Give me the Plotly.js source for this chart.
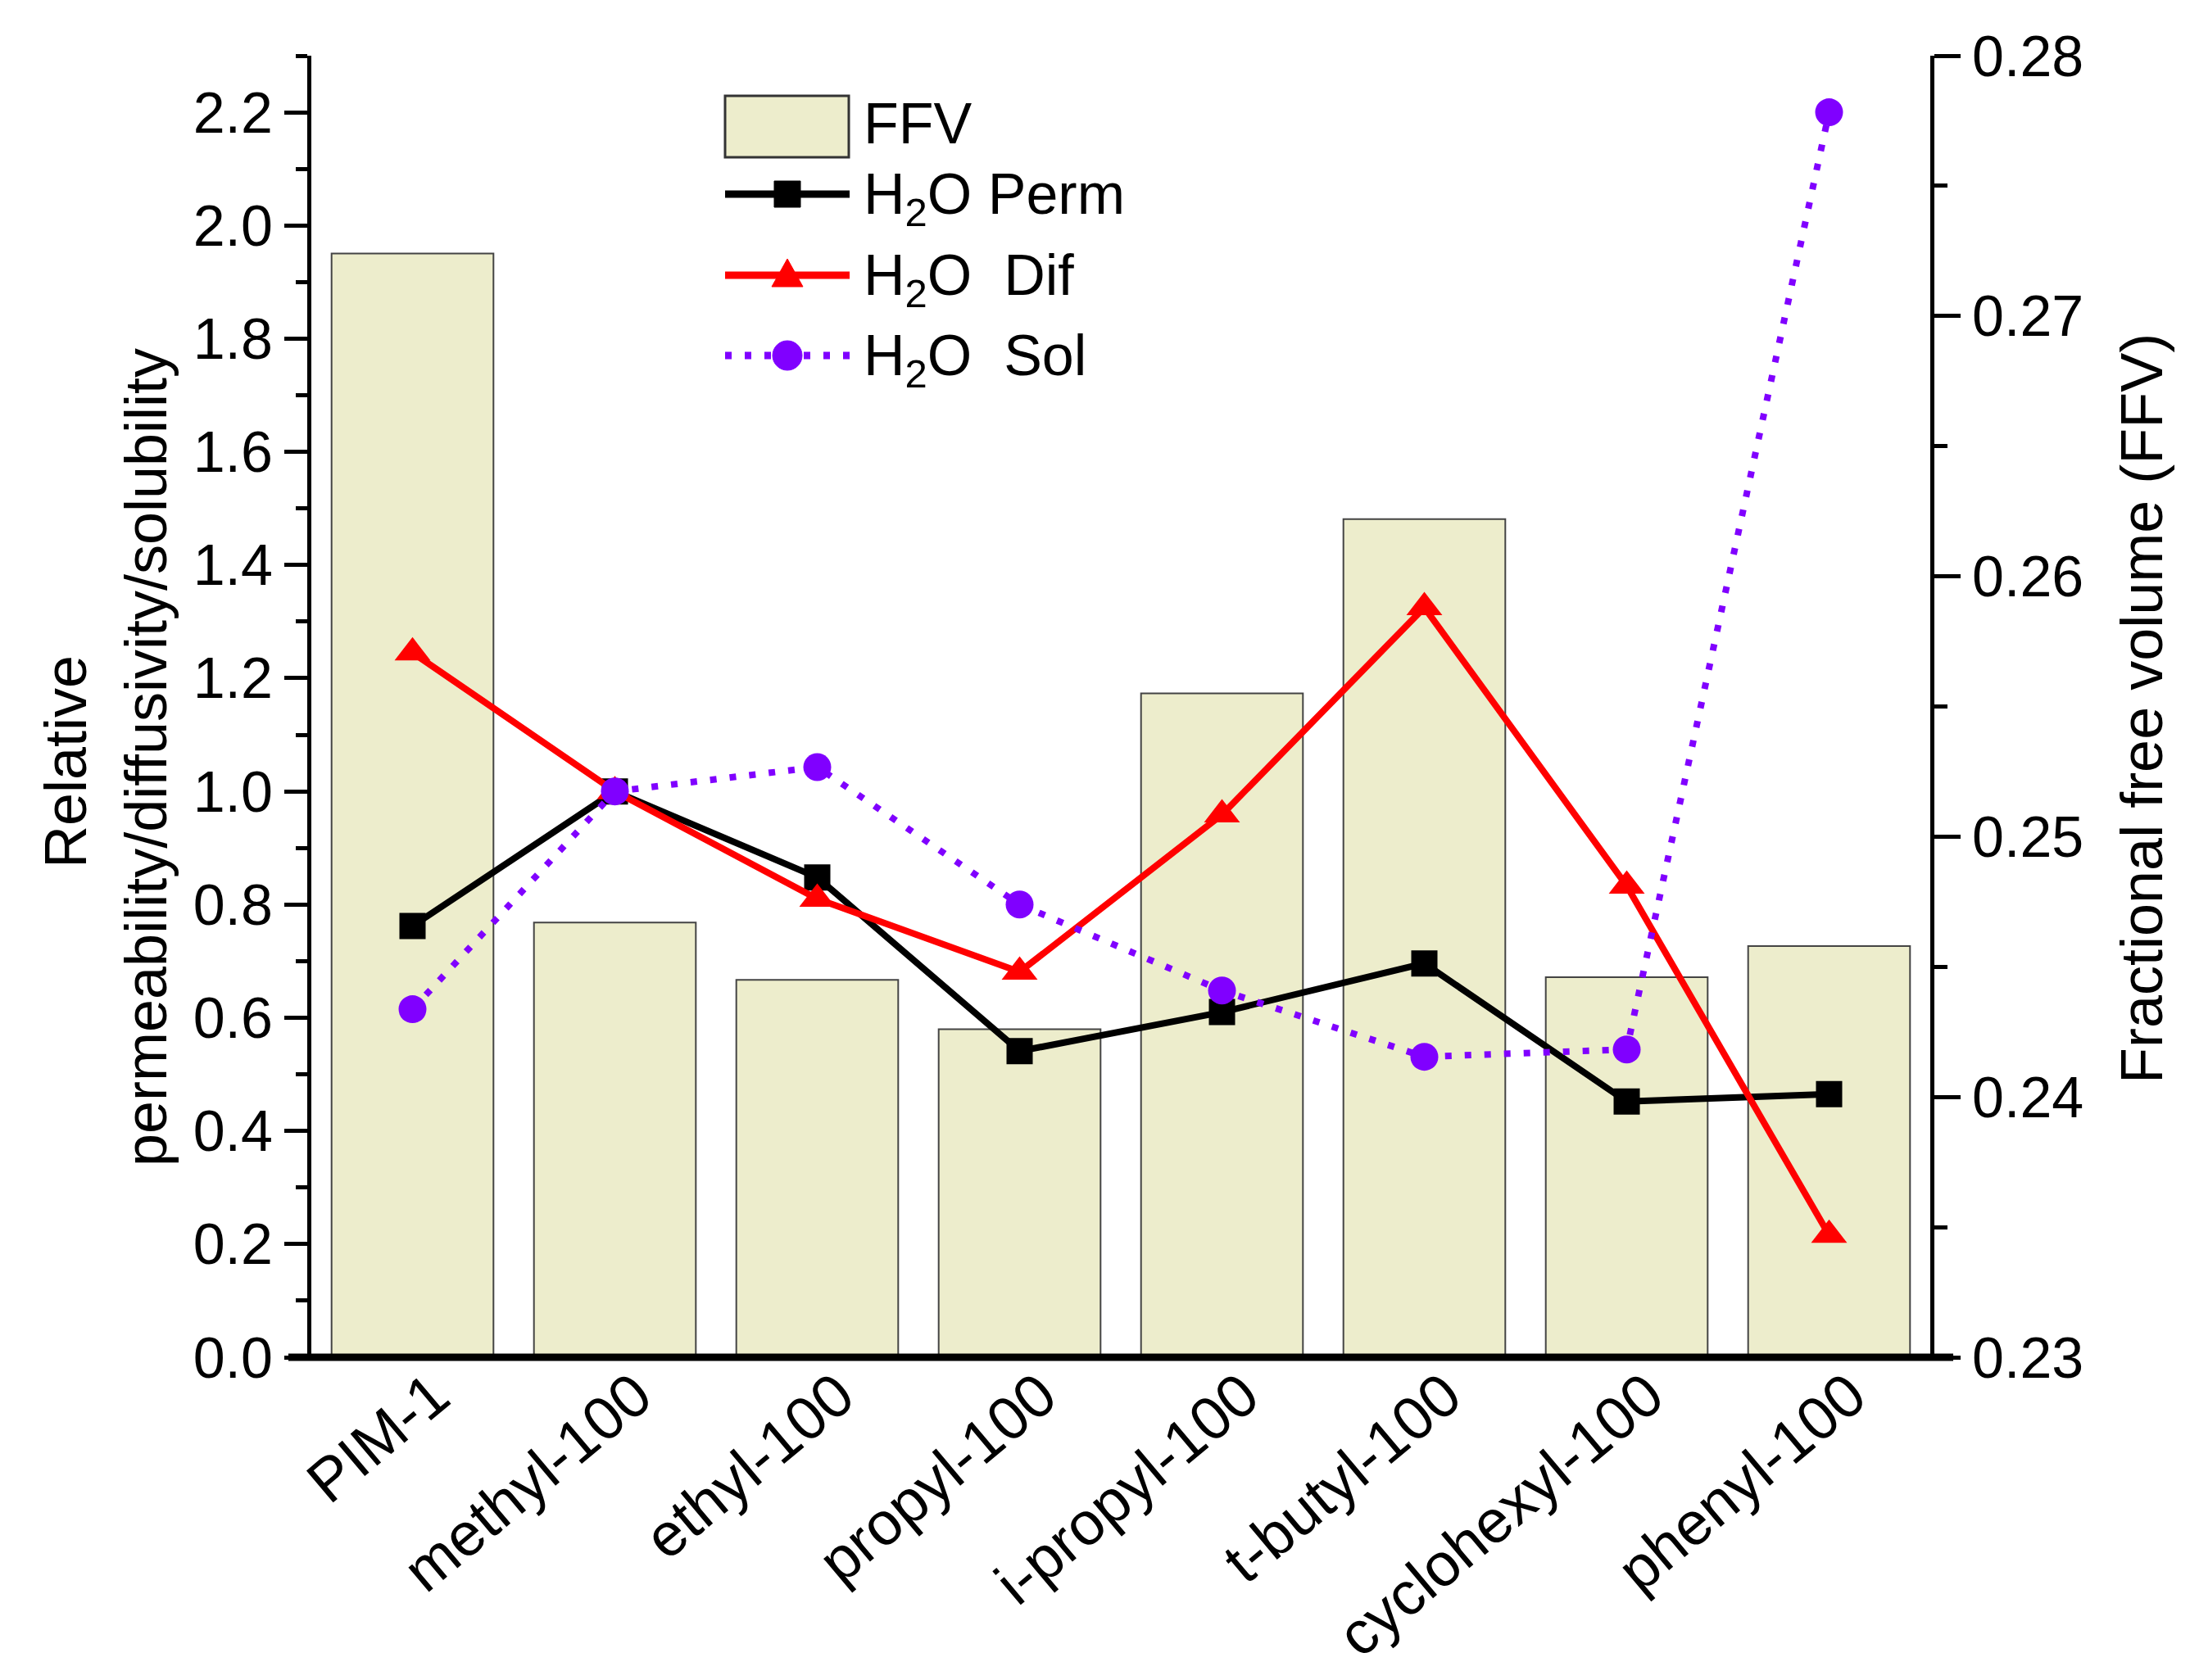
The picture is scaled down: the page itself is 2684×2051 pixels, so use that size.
<!DOCTYPE html>
<html>
<head>
<meta charset="utf-8">
<script src="https://cdn.plot.ly/plotly-3.0.1.min.js"></script>
<style>
  html, body { margin: 0; padding: 0; background: #fff; }
  #chart { width: 2684px; height: 2051px; }
</style>
</head>
<body>
<div id="chart"></div>
<script>
const categories = ['PIM-1', 'methyl-100', 'ethyl-100', 'propyl-100', 'i-propyl-100', 't-butyl-100', 'cyclohexyl-100', 'phenyl-100'];
const ffv = [0.2724, 0.2467, 0.2445, 0.2426, 0.2555, 0.2622, 0.2446, 0.2458];
const perm = [0.762, 1.0, 0.848, 0.541, 0.610, 0.696, 0.452, 0.465];
const dif = [1.245, 1.0, 0.810, 0.681, 0.959, 1.325, 0.833, 0.216];
const sol = [0.615, 1.0, 1.043, 0.800, 0.648, 0.531, 0.544, 2.200];

const FONT = "Arial, 'Liberation Sans', sans-serif";
const BAR_COLOR = '#EDEDCC';
const PURPLE = '#8000FF';

// plot box in page pixels, used only to place the hand-made legend
const PLOT = {l: 380, r: 2356, t: 68, b: 1657};
function px(x) { return (x - PLOT.l) / (PLOT.r - PLOT.l); }
function py(y) { return 1 - (y - PLOT.t) / (PLOT.b - PLOT.t); }

const traces = [
  {
    type: 'bar', x: categories, y: ffv, yaxis: 'y', width: 0.8,
    marker: {color: BAR_COLOR, line: {color: '#444', width: 2}},
  },
  {
    type: 'scatter', mode: 'lines+markers', x: categories, y: perm, yaxis: 'y2',
    line: {color: '#000', width: 8},
    marker: {symbol: 'square', size: 32, color: '#000'},
  },
  {
    type: 'scatter', mode: 'lines+markers', x: categories, y: dif, yaxis: 'y2',
    line: {color: '#FF0000', width: 8},
    marker: {symbol: 'triangle-up', size: 38, color: '#FF0000'},
  },
  {
    type: 'scatter', mode: 'lines+markers', x: categories, y: sol, yaxis: 'y2',
    line: {color: PURPLE, width: 8, dash: '8px,16px'},
    marker: {symbol: 'circle', size: 34, color: PURPLE},
  },
];

// legend drawn by hand so the swatches can be as large as in the figure
function legendRow(y, color, dash, markerShape) {
  const out = [{
    type: 'line', xref: 'paper', yref: 'paper',
    x0: px(885), x1: px(1037), y0: py(y), y1: py(y),
    line: {color: color, width: 9, dash: dash},
  }];
  out.push(Object.assign({
    xref: 'paper', yref: 'paper', xsizemode: 'pixel', ysizemode: 'pixel',
    xanchor: px(961), yanchor: py(y),
    fillcolor: color, line: {color: color, width: 1},
  }, markerShape));
  return out;
}

const shapes = [
  // x axis line running a bit past both y axes
  {type: 'line', xref: 'paper', yref: 'paper', x0: -0.0142, x1: 1.0142, y0: 0, y1: 0,
   line: {color: '#000', width: 9}},
  {type: 'rect', xref: 'paper', yref: 'paper', x0: px(885), x1: px(1036), y0: py(192), y1: py(117),
   fillcolor: BAR_COLOR, line: {color: '#333', width: 3}},
  ...legendRow(237, '#000', 'solid', {type: 'rect', x0: -16, x1: 16, y0: -16, y1: 16}),
  ...legendRow(336, '#FF0000', 'solid', {type: 'path', path: 'M-19,-14 L19,-14 L0,20 Z'}),
  ...legendRow(434, PURPLE, '8px,16px', {type: 'circle', x0: -18, x1: 18, y0: -18, y1: 18}),
];

function legendText(y, text) {
  return {xref: 'paper', yref: 'paper', x: px(1052), y: py(y), xanchor: 'left', yanchor: 'middle',
          showarrow: false, text: text, font: {family: FONT, size: 70, color: '#000'}};
}

function sideTitle(x, y, text) {
  return {xref: 'paper', yref: 'paper', x: px(x), y: py(y), xanchor: 'center', yanchor: 'middle',
          textangle: -90, showarrow: false, text: text, font: {family: FONT, size: 72, color: '#000'}};
}

const annotations = [
  legendText(151, 'FFV'),
  legendText(242, 'H<sub>2</sub>O Perm'),
  legendText(341, 'H<sub>2</sub>O&nbsp; Dif'),
  legendText(439, 'H<sub>2</sub>O&nbsp; Sol'),
  sideTitle(80, 930, 'Relative'),
  sideTitle(178, 925, 'permeability/diffusivity/solubility'),
  sideTitle(2614, 865, 'Fractional free volume (FFV)'),
];

const layout = {
  width: 2684, height: 2051,
  margin: {l: PLOT.l, r: 2684 - PLOT.r, t: PLOT.t, b: 2051 - PLOT.b, pad: 0},
  paper_bgcolor: '#fff', plot_bgcolor: 'rgba(0,0,0,0)',
  showlegend: false,
  font: {family: FONT, color: '#000'},
  xaxis: {
    type: 'category', range: [-0.5, 7.5], showline: false, showgrid: false, zeroline: false,
    ticks: '', tickangle: -40, ticklabelshift: 26, ticklabelstandoff: -12,
    tickfont: {family: FONT, size: 74, color: '#000'},
  },
  yaxis: {
    side: 'right', range: [0.23, 0.28], dtick: 0.01, tickformat: '.2f',
    showline: true, linecolor: '#000', linewidth: 5, showgrid: false, zeroline: false,
    ticks: 'outside', ticklen: 32, tickwidth: 5, tickcolor: '#000',
    minor: {dtick: 0.005, ticks: 'outside', ticklen: 16, tickwidth: 5, tickcolor: '#000', showgrid: false},
    tickfont: {family: FONT, size: 70, color: '#000'},
  },
  yaxis2: {
    side: 'left', overlaying: 'y', range: [0, 2.3], dtick: 0.2, tickformat: '.1f',
    showline: true, linecolor: '#000', linewidth: 5, showgrid: false, zeroline: false,
    ticks: 'outside', ticklen: 28, tickwidth: 5, tickcolor: '#000',
    minor: {dtick: 0.1, ticks: 'outside', ticklen: 14, tickwidth: 5, tickcolor: '#000', showgrid: false},
    tickfont: {family: FONT, size: 70, color: '#000'},
  },
  shapes: shapes,
  annotations: annotations,
};

Plotly.newPlot('chart', traces, layout, {displayModeBar: false, staticPlot: true});
</script>
</body>
</html>
